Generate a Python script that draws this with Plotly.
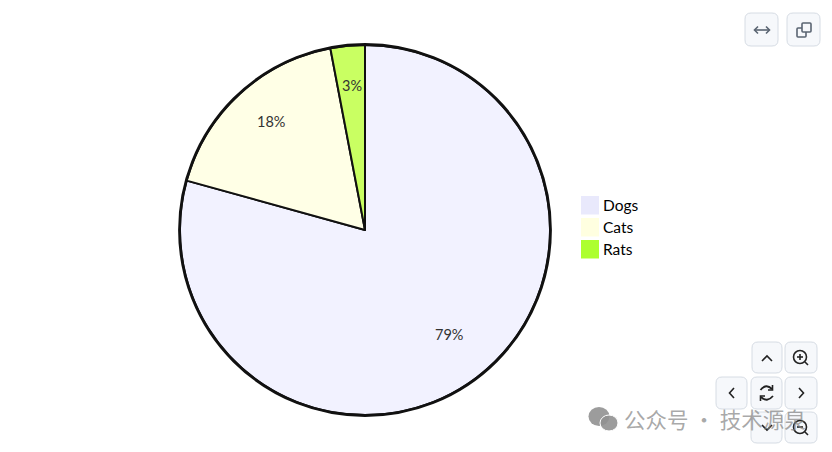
import math
import plotly.graph_objects as go

labels = ["Dogs", "Cats", "Rats"]
values = [79.3, 17.7, 3.0]
slice_colors = ["#f2f2ff", "#ffffe6", "#c9ff62"]
legend_colors = ["#e9e9fc", "#ffffe0", "#adff2f"]

W, H = 832, 452
CX, CY, R = 365, 230, 185
def X(p): return p / W
def Y(p): return 1 - p / H

shapes, annotations = [], []

def add_path(points_str, **kw):
    shapes.append(dict(type="path", xref="paper", yref="paper", path=points_str, layer="above", **kw))

def rrect(x0, y0, x1, y1, r=6):
    return (f"M{X(x0+r)},{Y(y0)} L{X(x1-r)},{Y(y0)} Q{X(x1)},{Y(y0)} {X(x1)},{Y(y0+r)} "
            f"L{X(x1)},{Y(y1-r)} Q{X(x1)},{Y(y1)} {X(x1-r)},{Y(y1)} L{X(x0+r)},{Y(y1)} "
            f"Q{X(x0)},{Y(y1)} {X(x0)},{Y(y1-r)} L{X(x0)},{Y(y0+r)} Q{X(x0)},{Y(y0)} {X(x0+r)},{Y(y0)} Z")

def line(pts, color="#222222", width=1.6):
    d = "M" + " L".join(f"{X(a)},{Y(b)}" for a, b in pts)
    add_path(d, line=dict(color=color, width=width))

def circle(cx, cy, r, color="#222222", width=1.6, fill=None, ry=None):
    ry = ry or r
    shapes.append(dict(type="circle", xref="paper", yref="paper", x0=X(cx-r), x1=X(cx+r),
                       y0=Y(cy+ry), y1=Y(cy-ry), layer="above",
                       line=dict(color=color, width=width), fillcolor=fill or "rgba(0,0,0,0)"))

# toolbar buttons
for box in [(745, 13, 778, 46), (787, 13, 820, 46), (752, 342, 782, 373), (785, 342, 817, 373),
            (716, 377, 747, 409), (751, 377, 782, 409), (785, 377, 817, 409),
            (751, 412, 782, 443), (785, 412, 817, 443)]:
    add_path(rrect(*box), line=dict(color="#d6dce4", width=1), fillcolor="#f6f8fb")

# expand icon
G = "#5a6472"
line([(755, 30), (769, 30)], G)
line([(758, 26.5), (754.5, 30), (758, 33.5)], G)
line([(766, 26.5), (769.5, 30), (766, 33.5)], G)
# copy icon
add_path(rrect(797, 28, 806, 37, 1), line=dict(color=G, width=1.6), fillcolor="#f6f8fb")
add_path(rrect(802, 23, 811, 32, 1), line=dict(color=G, width=1.6), fillcolor="#f6f8fb")
# arrows
line([(762, 361), (767, 356), (772, 361)])
line([(734, 388), (729.5, 393), (734, 398)])
line([(799, 388), (803.5, 393), (799, 398)])
line([(762, 425), (767, 430), (772, 425)])
# zoom icons
circle(800, 357, 6.5); line([(805, 362), (808, 365)])
line([(797, 357), (803, 357)]); line([(800, 354), (800, 360)])
circle(800, 427, 6.5); line([(805, 432), (808, 435)])
line([(797, 427), (803, 427)])
# reset icon
add_path(f"M{X(760.5)},{Y(390)} Q{X(766)},{Y(383)} {X(772)},{Y(389)} M{X(773)},{Y(396)} Q{X(767)},{Y(403)} {X(761)},{Y(397)}",
         line=dict(color="#222222", width=1.8))
line([(772.5, 385), (772.5, 390), (768, 390)]); line([(760.5, 401), (760.5, 396), (765, 396)])

# outer pie ring
circle(CX, CY, R + 0.5, color="#111111", width=2.8)

# percent labels, placed at the middle angle of each slice
total = sum(values)
start = 0.0
for v in values:
    mid = (start + v / 2) / total * 2 * math.pi
    start += v
    annotations.append(dict(text=f"{v/total:.0%}", xref="paper", yref="paper",
                            x=X(CX + 0.75 * R * math.sin(mid)), y=Y(CY - 0.75 * R * math.cos(mid) - 6),
                            xanchor="center", yanchor="middle", showarrow=False,
                            font=dict(size=14.5, color="#333333", family="Lato")))

# legend
for i, (name, c) in enumerate(zip(labels, legend_colors)):
    y0 = 196 + 22 * i
    shapes.append(dict(type="rect", xref="paper", yref="paper", x0=X(581), x1=X(599),
                       y0=Y(y0 + 18.5), y1=Y(y0), fillcolor=c, line=dict(width=0), layer="above"))
    annotations.append(dict(text=name, xref="paper", yref="paper", x=X(601), y=Y(y0 + 8.5),
                            xanchor="left", yanchor="middle", showarrow=False,
                            font=dict(size=15.5, color="#000000", family="Lato")))

# watermark
WM = "rgba(130,130,130,0.7)"
circle(599, 416.5, 10.5, color="rgba(0,0,0,0)", width=0, fill="rgba(145,145,145,0.9)", ry=9.5)
circle(609, 423, 9, color="#ffffff", width=1, fill="rgba(145,145,145,0.9)", ry=8)
annotations.append(dict(text="公众号 · 技术源泉", xref="paper", yref="paper", x=X(622), y=Y(418),
                        xanchor="left", yanchor="middle", showarrow=False,
                        font=dict(size=21.5, color=WM, family="Noto Sans CJK SC")))

fig = go.Figure(go.Pie(
    labels=labels, values=values, sort=False, direction="clockwise", rotation=0,
    marker=dict(colors=slice_colors, line=dict(color="#111111", width=2)),
    textinfo="none",
    domain=dict(x=[X(CX - R), X(CX + R)], y=[Y(CY + R), Y(CY - R)]),
    showlegend=False, hoverinfo="label+percent",
))
fig.update_layout(width=W, height=H, margin=dict(l=0, r=0, t=0, b=0),
                  paper_bgcolor="white", shapes=shapes, annotations=annotations)
fig.write_html("out.html", config=dict(displayModeBar=False),
               post_script="document.body.style.margin='0';document.body.style.overflow='hidden';")
